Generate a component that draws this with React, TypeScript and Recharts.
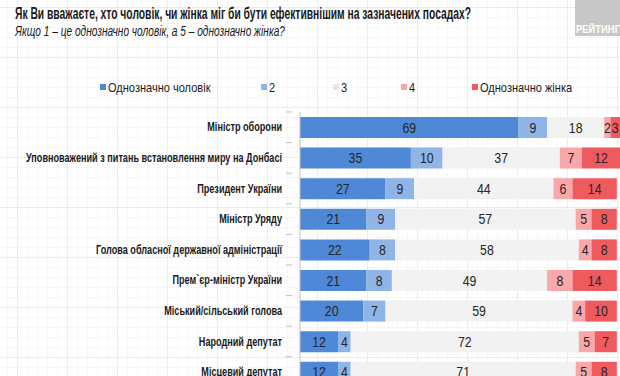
import React from "react";
import { BarChart, Bar, XAxis, YAxis, LabelList } from "recharts";

const categories = [
  "Міністр оборони",
  "Уповноважений з питань встановлення миру на Донбасі",
  "Президент України",
  "Міністр Уряду",
  "Голова обласної державної адміністрації",
  "Прем`єр-міністр України",
  "Міський/сільський голова",
  "Народний депутат",
  "Місцевий депутат",
];
const definitelyMan = [69, 35, 27, 21, 22, 21, 20, 12, 12];
const score2 = [9, 10, 9, 9, 8, 8, 7, 4, 4];
const score3 = [18, 37, 44, 57, 58, 49, 59, 72, 71];
const score4 = [2, 7, 6, 5, 4, 8, 4, 5, 5];
const definitelyWoman = [3, 12, 14, 8, 8, 14, 10, 7, 8];

const seriesNames = ["Однозначно чоловік", "2", "3", "4", "Однозначно жінка"];
const seriesKeys = ["m", "s2", "s3", "s4", "w"];
const seriesColors = ["#4f88d6", "#8fb4e6", "#f2f2f2", "#f9a7a8", "#ef5a5f"];

const titleText = "Як Ви вважаєте, хто чоловік, чи жінка міг би бути ефективнішим на зазначених посадах?";
const subtitleText = "Якщо 1 – це однозначно чоловік, а 5 – однозначно жінка?";

const data = categories.map((c, i) => ({
  name: c,
  m: definitelyMan[i],
  s2: score2[i],
  s3: score3[i],
  s4: score4[i],
  w: definitelyWoman[i],
}));

const FONT = "'Liberation Sans', Arial, sans-serif";
const NARROW = 0.76;
const HALF_BAND = 15.3;

const CategoryTick = (props: any) => {
  const { x, y, payload, index } = props;
  return (
    <g>
      <line x1={x - 6} x2={x} y1={y - HALF_BAND} y2={y - HALF_BAND} stroke="#bfbfbf" />
      {index === categories.length - 1 && (
        <line x1={x - 6} x2={x} y1={y + HALF_BAND} y2={y + HALF_BAND} stroke="#bfbfbf" />
      )}
      <text
        transform={`translate(${x - 10},${y + 4}) scale(${NARROW},1)`}
        textAnchor="end"
        fontFamily={FONT}
        fontWeight="bold"
        fontSize={12}
        fill="#1a1a1a"
      >
        {payload.value}
      </text>
    </g>
  );
};

const BarLabel = (props: any) => {
  const { x, y, width, height, value } = props;
  return (
    <text
      transform={`translate(${x + width / 2},${y + height / 2 + 5}) scale(0.88,1)`}
      textAnchor="middle"
      fontFamily={FONT}
      fontSize={14}
      fill="#262626"
    >
      {value}
    </text>
  );
};

const legendX = [100, 261, 333, 401, 472];

const Overlay = () => (
  <svg width={620} height={100} style={{ position: "absolute", left: 0, top: 0 }}>
    <rect x={575} y={0} width={45} height={36} fill="#c8c8c8" />
    <text
      x={576}
      y={33}
      textLength={44}
      lengthAdjust="spacingAndGlyphs"
      fontFamily={FONT}
      fontWeight="bold"
      fontSize={10}
      fill="#ffffff"
    >
      РЕЙТИНГ
    </text>
    <text
      x={15}
      y={19}
      textLength={456}
      lengthAdjust="spacingAndGlyphs"
      fontFamily={FONT}
      fontWeight="bold"
      fontSize={16}
      fill="#1a1a1a"
    >
      {titleText}
    </text>
    <text
      x={15}
      y={36}
      textLength={270}
      lengthAdjust="spacingAndGlyphs"
      fontFamily={FONT}
      fontStyle="italic"
      fontSize={15.5}
      fill="#1a1a1a"
    >
      {subtitleText}
    </text>
    {seriesNames.map((n, i) => (
      <g key={n}>
        <rect
          x={legendX[i]}
          y={84}
          width={6}
          height={6}
          fill={seriesColors[i] === "#f2f2f2" ? "#e6e6e6" : seriesColors[i]}
        />
        <text
          transform={`translate(${legendX[i] + 8},${92}) scale(0.85,1)`}
          fontFamily={FONT}
          fontSize={13}
          fill="#1a1a1a"
        >
          {n}
        </text>
      </g>
    ))}
  </svg>
);

export default function App() {
  return (
    <div
      style={{
        position: "absolute",
        left: 0,
        top: 0,
        width: 620,
        height: 400,
        overflow: "hidden",
        background: "#ffffff",
        backgroundImage:
          "linear-gradient(to right, #ececec 1px, transparent 1px), linear-gradient(to bottom, #ececec 1px, transparent 1px), linear-gradient(to right, #f6f6f6 1px, transparent 1px), linear-gradient(to bottom, #f6f6f6 1px, transparent 1px)",
        backgroundSize: "50px 50px, 50px 50px, 10px 10px, 10px 10px",
        backgroundPosition: "17px 7px, 17px 7px, 17px 7px, 17px 7px",
      }}
    >
      <Overlay />
      <div style={{ position: "absolute", left: 0, top: 0 }}>
        <BarChart
          width={620}
          height={400}
          data={data}
          layout="vertical"
          margin={{ top: 112, right: 0, bottom: 12.6, left: 0 }}
          barSize={21}
        >
          <XAxis type="number" domain={[0, 101]} hide />
          <YAxis
            type="category"
            dataKey="name"
            width={300}
            axisLine={{ stroke: "#bfbfbf" }}
            tickLine={false}
            tick={<CategoryTick />}
            interval={0}
          />
          {seriesKeys.map((k, i) => (
            <Bar
              key={k}
              dataKey={k}
              name={seriesNames[i]}
              stackId="a"
              fill={seriesColors[i]}
              isAnimationActive={false}
            >
              <LabelList dataKey={k} content={<BarLabel />} />
            </Bar>
          ))}
        </BarChart>
      </div>
    </div>
  );
}
